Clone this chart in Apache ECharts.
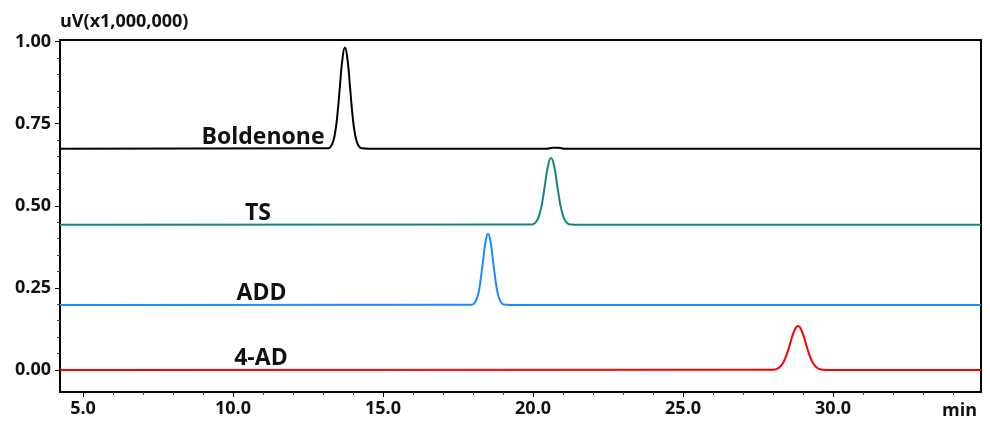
<!DOCTYPE html>
<html><head><meta charset="utf-8">
<script src="https://cdn.jsdelivr.net/npm/echarts@6/dist/echarts.min.js"></script>
<style>html,body{margin:0;padding:0;background:#fff}#c{width:990px;height:423px}</style>
</head><body><div id="c"></div>
<script>
// Retention time (min) vs signal (uV x1,000,000), offset traces
const boldenone = [[4.23,0.674],[13.15,0.675],[13.22,0.677],[13.305,0.688],[13.39,0.716],[13.475,0.774],[13.56,0.861],[13.645,0.946],[13.73,0.982],[13.815,0.946],[13.90,0.861],[13.985,0.774],[14.07,0.716],[14.155,0.688],[14.24,0.677],[14.31,0.675],[14.5,0.674],[20.45,0.674],[20.65,0.677],[20.85,0.677],[21.05,0.674],[34.93,0.674]];
const ts = [[4.23,0.442],[19.9,0.443],[20.0,0.444],[20.1,0.451],[20.2,0.470],[20.3,0.508],[20.4,0.566],[20.5,0.622],[20.6,0.646],[20.7,0.622],[20.8,0.566],[20.9,0.508],[21.0,0.470],[21.1,0.451],[21.2,0.444],[21.3,0.443],[21.5,0.442],[34.93,0.442]];
const add = [[4.23,0.198],[17.93,0.199],[18.0,0.200],[18.075,0.208],[18.16,0.227],[18.245,0.269],[18.33,0.330],[18.415,0.389],[18.5,0.415],[18.585,0.389],[18.67,0.330],[18.755,0.269],[18.84,0.227],[18.925,0.208],[19.0,0.200],[19.07,0.199],[19.3,0.198],[34.93,0.198]];
const ad4 = [[4.23,0.0],[27.93,0.0005],[28.05,0.0015],[28.18,0.006],[28.31,0.018],[28.44,0.044],[28.57,0.081],[28.70,0.118],[28.83,0.134],[28.96,0.118],[29.09,0.081],[29.22,0.044],[29.35,0.018],[29.48,0.006],[29.61,0.0015],[29.73,0.0005],[29.9,0.0],[34.93,0.0]];
const names = ['Boldenone','TS','ADD','4-AD'];
const baselines = [0.674,0.442,0.198,0.0];
const labelXs = [11.0, 10.83, 10.95, 10.93];
const xTicks = [5,10,15,20,25,30];
const xMinor = [6,7,8,9,11,12,13,14,16,17,18,19,21,22,23,24,26,27,28,29,31,32,33,34];
const yTicks = [0,0.25,0.5,0.75,1.0];
const yMinor = [0.05,0.1,0.15,0.2,0.3,0.35,0.4,0.45,0.55,0.6,0.65,0.7,0.8,0.85,0.9,0.95];

const FONT = '"Open Sans"';
const colors = ['#000000','#15867f','#1a8cff','#ff0000'];
const datas = [boldenone, ts, add, ad4];
const XMIN = 4.233, XMAX = 34.93, YMIN = -0.067, YMAX = 1.005;

const chart = echarts.init(document.getElementById('c'), null, {renderer:'canvas'});
const series = datas.map((d,i)=>({
  type:'line', data:d, xAxisIndex:0, yAxisIndex:0, showSymbol:false, symbol:'none',
  smooth:0.5,
  lineStyle:{color:colors[i], width:2}, itemStyle:{color:colors[i]}, z:2+i,
  markPoint:{symbol:'circle', symbolSize:0, silent:true,
    data:[{coord:[labelXs[i], baselines[i]], value:names[i]}],
    label:{show:true, position:'top', distance:0, formatter:names[i], color:'#111', fontFamily:FONT, fontWeight:'bold', fontSize:23}}
}));
chart.setOption({
  animation:false,
  grid:{left:60, right:9, top:40, bottom:31, show:true, borderColor:'#000', borderWidth:2, backgroundColor:'transparent'},
  title:[
    {text:'uV(x1,000,000)', left:55, top:8, textStyle:{fontFamily:FONT, fontWeight:'bold', fontSize:18, color:'#111'}},
    {text:'min', right:8, top:397, textStyle:{fontFamily:FONT, fontWeight:'bold', fontSize:18, color:'#111'}}
  ],
  xAxis:[
    {type:'value', min:XMIN, max:XMAX, splitLine:{show:false},
     axisLine:{show:true, onZero:false, lineStyle:{color:'#000', width:2}},
     axisTick:{show:true, customValues:xTicks, length:5, lineStyle:{color:'#000', width:1}},
     axisLabel:{customValues:xTicks, formatter:v=>v.toFixed(1), color:'#111', fontFamily:FONT, fontWeight:'bold', fontSize:18, margin:8}},
    {type:'value', min:XMIN, max:XMAX, position:'bottom', splitLine:{show:false},
     axisLine:{show:false, onZero:false},
     axisTick:{show:true, customValues:xMinor, length:3, lineStyle:{color:'#444', width:1}},
     axisLabel:{show:false}}
  ],
  yAxis:[
    {type:'value', min:YMIN, max:YMAX, splitLine:{show:false},
     axisLine:{show:true, onZero:false, lineStyle:{color:'#000', width:2}},
     axisTick:{show:true, customValues:yTicks, length:5, lineStyle:{color:'#000', width:1}},
     axisLabel:{customValues:yTicks, formatter:v=>v.toFixed(2), color:'#111', fontFamily:FONT, fontWeight:'bold', fontSize:18, margin:9}},
    {type:'value', min:YMIN, max:YMAX, position:'left', splitLine:{show:false},
     axisLine:{show:false, onZero:false},
     axisTick:{show:true, customValues:yMinor, length:3, lineStyle:{color:'#444', width:1}},
     axisLabel:{show:false}}
  ],
  series:series
});
</script></body></html>
